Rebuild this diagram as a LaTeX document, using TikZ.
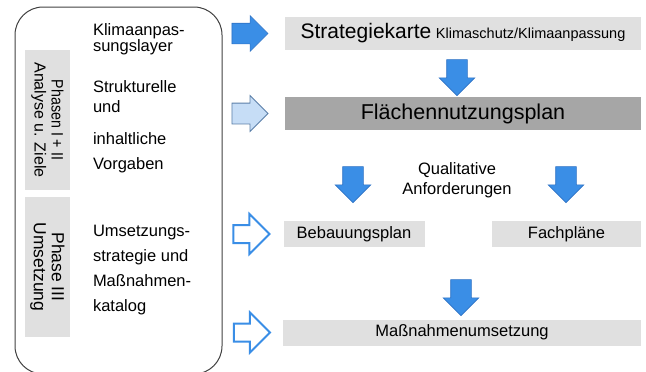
\documentclass[tikz,border=0pt]{standalone}
\usepackage{fontspec}
\setmainfont{Liberation Sans}
\usepackage{xcolor}
\usepackage{tikz}
\usetikzlibrary{positioning, shapes.arrows}
\definecolor{klblue}{HTML}{3A8EE6}
\definecolor{klblueline}{HTML}{2F72C4}
\definecolor{kllight}{HTML}{C6DDF6}
\definecolor{kllightline}{HTML}{5B7FA8}
\definecolor{klgray}{HTML}{E0E0E0}
\definecolor{kldark}{HTML}{A6A6A6}
\definecolor{klframe}{HTML}{404040}

\begin{document}
\begin{tikzpicture}[
  x=1pt, y=-1pt,
  every node/.style={inner sep=0pt, outer sep=0pt},
  planbox/.style={fill=klgray, minimum height=26pt, font=\fontsize{16.5}{19}\selectfont},
  phasebox/.style={fill=klgray, minimum width=140pt, minimum height=45pt, rotate=-90, align=center, font=\fontsize{16}{17}\selectfont},
  sidetext/.style={anchor=base west, align=left, font=\fontsize{16.5}{17}\selectfont},
  fullarr/.style={single arrow, single arrow head extend=7.5pt, inner sep=10pt, minimum height=36pt, fill=klblue, draw=klblueline, line width=0.6pt},
  lightarr/.style={fullarr, fill=kllight, draw=kllightline, line width=0.8pt},
  openarr/.style={single arrow, single arrow head extend=11pt, inner sep=8pt, minimum height=36pt, fill=white, draw=klblue, line width=2pt}
]
  \useasboundingbox (0,0) rectangle (646,372);

  % left column (base = last line)
  \node[draw=klframe, line width=1pt, rounded corners=28pt, minimum width=207pt, minimum height=367pt] (frame) at (118.5,190.5) {};
  \node[phasebox] (ph1) at (47.5,120) {\scalebox{0.86}[1]{\fontsize{16.5}{17}\selectfont Phasen I + II}\\Analyse u. Ziele};
  \node[phasebox, font=\fontsize{17.5}{18}\selectfont] (ph2) at (47.5,267) {Phase III\\Umsetzung};
  \node[sidetext] (layer) at (93,52) {Klimaanpas-\\sungslayer};
  \node[sidetext, font=\fontsize{16.5}{20}\selectfont] (vorg) at (93,169) {Strukturelle\\und\\[12pt]inhaltliche\\[5pt]Vorgaben};
  \node[sidetext, font=\fontsize{16.5}{25}\selectfont] (kat) at (93,311) {Umsetzungs-\\strategie und\\Maßnahmen-\\katalog};

  % plans
  \node[planbox, minimum width=356pt, minimum height=33pt] (strat) at (463,33.5) {{\fontsize{21}{24}\selectfont Strategiekarte} {\fontsize{14.5}{17}\selectfont Klimaschutz/Klimaanpassung}};
  \node[planbox, fill=kldark, minimum width=356pt, minimum height=33pt, font=\fontsize{21.5}{24}\selectfont] (fnp) at (463,113.5) {Flächennutzungsplan};
  \node[planbox, minimum width=141pt] (bplan) at (354,234) {Bebauungsplan};
  \node[planbox, minimum width=149pt] (fach) at (566.5,234) {Fachpläne};
  \node[planbox, minimum width=358pt] (umsetz) at (462,332.5) {Maßnahmenumsetzung};
  \node[align=center, font=\fontsize{16.5}{20}\selectfont] (quali) at (457,180) {Qualitative\\Anforderungen};

  % block arrows
  \node[fullarr, left=17pt of strat] (a1) {};
  \node[lightarr, left=17pt of fnp] (a2) {};
  \node[openarr, left=14pt of bplan] (a3) {};
  \node[openarr, left=13pt of umsetz] (a4) {};
  \node[fullarr, rotate=-90] (d1) at (457,72.5) {};
  \node[fullarr, rotate=-90] (d2) at (353,179.5) {};
  \node[fullarr, rotate=-90] (d3) at (566,179.5) {};
  \node[fullarr, rotate=-90] (d4) at (461,292.5) {};
\end{tikzpicture}
\end{document}
